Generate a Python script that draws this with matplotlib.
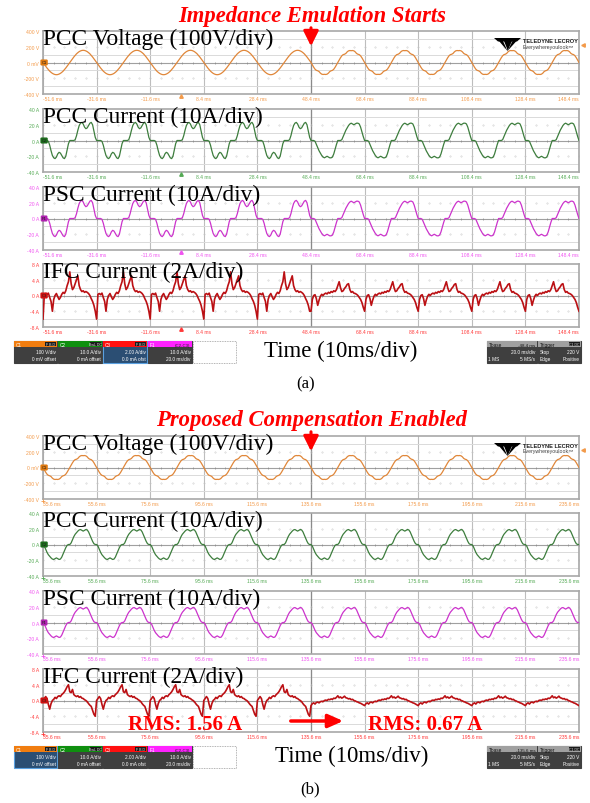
import matplotlib

matplotlib.use("Agg")
import matplotlib.pyplot as plt
import numpy as np
from matplotlib.patches import Rectangle, Polygon

plt.rcParams["font.family"] = ["Liberation Sans", "DejaVu Sans"]

W, H = 590, 804
DT = 0.5  # ms between samples in every per-cycle list below (one 50 Hz cycle = 40 samples)

# ---- per-cycle shapes (cycle starts at falling zero crossing of PCC voltage)
# voltage, half cycle (V); second half is the mirror image
VOLT_SINE_HALF = [0, -24, -48, -70, -91, -110, -125, -138, -147, -153,
                  -155, -153, -147, -138, -125, -110, -91, -70, -48, -24]
VOLT_STEP_HALF = [0, -30, -60, -85, -100, -105, -115, -135, -148, -152,
                  -150, -152, -148, -135, -115, -105, -100, -85, -60, -30]
# PCC / PSC current, half cycle (A)
CUR_A_PRE_HALF = [0, 0, 0, 0, -1, -6, -13, -19, -22, -23,
                  -21, -17, -15, -16, -19, -22, -23, -20, -12, -4]
CUR_A_POST_HALF = [0, 0, 0, -1, -5, -9, -13, -16, -19, -21,
                   -22, -21, -20, -21, -22, -22, -21, -17, -11, -5]
CUR_B_HALF = [0, -2, -6, -10, -13, -15, -17, -18.5, -19, -18,
              -17, -18, -19, -18.5, -16, -12, -8, -4, -1, 0]
# IFC current, full cycle (A)
IFC_A_PRE = [-6.0, 0.3, 0.5, 0.2, 0.6, -0.5, -1.5, -4.0, -1.0, 0.0,
             0.5, -0.3, -1.0, -0.5, 0.3, 0.8, 0.5, 1.2, 2.5, 3.5,
             6.0, 3.0, 1.5, 2.0, 3.0, 4.0, 5.0, 2.5, 1.5, 1.0,
             1.2, 0.8, 1.0, 0.8, 0.5, 0.0, -0.8, -1.5, -2.5, -4.0]
IFC_A_POST = [-4.0, -1.0, 0.0, 0.2, -0.8, -2.5, -1.2, -0.2, 0.3, 0.0,
              0.4, 0.6, 0.4, 0.8, 0.6, 1.0, 0.8, 1.2, 1.0, 1.5,
              2.5, 3.5, 2.0, 1.0, 1.2, 1.8, 2.2, 2.8, 3.0, 1.5,
              0.8, 1.0, 0.6, 0.5, 0.3, 0.0, -0.5, -1.0, -1.8, -3.0]
IFC_B_PRE = [0.0, 0.5, 1.0, 0.5, -1.0, -2.2, -0.8, 0.0, 0.3, 0.8,
             0.5, 1.0, 1.2, 1.0, 1.5, 1.8, 2.2, 2.8, 3.5, 4.0,
             2.2, 2.0, 2.8, 1.5, 1.2, 1.0, 1.2, 0.8, 1.0, 0.6,
             0.5, 0.2, 0.0, -0.3, -0.8, -1.2, -1.5, -2.5, -3.5, -4.0]
IFC_B_POST = [-1.3, -0.8, -0.6, -0.9, -0.5, -0.4, -0.6, -0.3, -0.2, -0.3,
              0.0, 0.1, 0.0, 0.3, 0.2, 0.4, 0.3, 0.6, 0.5, 0.8,
              1.2, 0.7, 0.9, 0.6, 0.8, 1.1, 0.7, 0.6, 0.4, 0.5,
              0.2, 0.3, 0.0, -0.1, -0.3, -0.4, -0.6, -0.7, -0.9, -1.1]

T0_A, T0_B = -51.6, 35.6  # left edge of the screen, ms
TBASE_A, TBASE_B = "-48.4 ms", "-135.6 ms"


def full(half):
    return list(half) + [-v for v in half]


# channel look: per-div, tick labels, trace colour, label colour, marker colour, marker text
CH = {
    "V": (100, ["400 V", "200 V", "0 mV", "-200 V", "-400 V"], "#e0873a", "#f39a4a", "#e07a10", "C1"),
    "PCC": (10, ["40 A", "20 A", "0 A", "-20 A", "-40 A"], "#3d7d3d", "#55aa55", "#1c6b1c", "C2"),
    "PSC": (10, ["40 A", "20 A", "0 A", "-20 A", "-40 A"], "#cc33cc", "#f055f0", "#b020b0", "F1"),
    "IFC": (2, ["8 A", "4 A", "0 A", "-4 A", "-8 A"], "#bb1014", "#ff3a3a", "#d01010", "C3"),
}

X0, X1, HGT = 43, 579, 63

fig = plt.figure(figsize=(W / 100, H / 100), dpi=100)
ov = fig.add_axes([0, 0, 1, 1], zorder=10)
ov.set_xlim(0, W)
ov.set_ylim(H, 0)
ov.axis("off")
ov.patch.set_alpha(0)


def strip(top, t0, pre, post, key, left_mark):
    div, ylabs, tc, lc, mc, mtxt = CH[key]
    y = np.concatenate([np.tile(pre, 5), np.tile(post, 5), post[:1]])
    t = t0 + np.arange(len(y)) * DT
    ax = fig.add_axes([X0 / W, 1 - (top + HGT) / H, (X1 - X0) / W, HGT / H])
    ax.set_xlim(t0, t0 + 200)
    ax.set_ylim(-4 * div, 4 * div)
    xt = t0 + 20 * np.arange(11)
    ax.set_xticks(xt, [f"{v:.1f} ms" for v in xt])
    ax.set_yticks([4 * div, 2 * div, 0, -2 * div, -4 * div], ylabs)
    ax.set_yticks(np.arange(-4, 5) * div, minor=True)
    ax.tick_params(which="both", length=0, labelsize=3.6, labelcolor=lc)
    ax.tick_params(axis="x", pad=1.2)
    ax.tick_params(axis="y", pad=2.8)
    labs = ax.get_xticklabels()
    labs[0].set_ha("left")
    labs[-1].set_ha("right")
    ax.grid(which="major", axis="x", color="#bdbdbd", lw=0.8)
    ax.grid(which="minor", axis="y", color="#dadada", lw=0.7)
    ax.set_axisbelow(True)
    ax.axvline(t0 + 100, color="#8a8a8a", lw=0.9, zorder=1)
    ax.axhline(0, color="#a0a0a0", lw=0.8, zorder=1)
    sub = t0 + 4 * np.arange(51)
    ax.plot(sub, np.zeros_like(sub), ls="none", marker="|", ms=2, mew=0.5, color="#8a8a8a", zorder=1)
    for r in (2 * div, -2 * div):
        ax.plot(sub, np.full_like(sub, r), ls="none", marker=".", ms=0.6, color="#c4c4c4", zorder=1)
    for s in ax.spines.values():
        s.set_color("#a8a8a8")
        s.set_linewidth(1.2)
    ax.plot(t, y, color=tc, lw=1.2 if key == "IFC" else 0.9, zorder=3)
    # channel marker at zero level
    ax.text(0.002, 0, mtxt, transform=ax.get_yaxis_transform(), ha="center", va="center",
            fontsize=3.0, color="#222222", zorder=6, clip_on=False,
            bbox=dict(boxstyle="round,pad=0.15", fc=mc, ec=mc, lw=0.5))
    if left_mark:
        ax.plot(0, -4.25 * div, marker="^", ms=2.5, color=lc, clip_on=False, zorder=6)
    else:
        ax.plot(t0, -4.25 * div, marker="+", ms=2.5, mew=0.6, color=lc, clip_on=False, zorder=6)
    if key == "V":
        ax.plot(1.008, 220, marker="<", ms=2.5, color=lc, clip_on=False, zorder=6,
                transform=ax.get_yaxis_transform())
    return ax


def logo(y):
    ov.add_patch(Polygon([(494, y), (521, y), (517, y + 3.5), (498, y + 3.5)], closed=True, fc="black"))
    for xa in (499, 503.5, 508, 512.5):
        ov.add_patch(Polygon([(xa, y + 3), (xa + 4, y + 3), (507.5, y + 13)], closed=True, fc="black"))
    ov.text(523, y + 4, "TELEDYNE LECROY", fontsize=4.1, fontweight="bold", color="#222222", va="baseline")
    ov.text(523, y + 9.5, "Everywhereyoulook\u2122", fontsize=3.8, color="#444444", va="baseline")


def box(x0, x1, y0, hc, name, tag, l1, l2, body="#3f3f3f", edge="#3f3f3f", dark_head=False):
    ov.add_patch(Rectangle((x0, y0), x1 - x0, 22, fc=body, ec=edge, lw=0.8))
    ov.add_patch(Rectangle((x0, y0), x1 - x0, 6, fc=hc, ec="none"))
    ov.text(x0 + 1.5, y0 + 4.8, name, fontsize=3.4, color="#111111" if dark_head else "white", va="baseline")
    if tag:
        ov.add_patch(Rectangle((x1 - 12, y0 + 0.8), 11, 4.4, fc="#1a1a1a", ec="none"))
        ov.text(x1 - 6.5, y0 + 4.5, tag, fontsize=2.6, color="#dddddd", ha="center", va="baseline")
    for i, line in enumerate((l1, l2)):
        if isinstance(line, tuple):
            ov.text(x0 + 1.5, y0 + 12 + 7 * i, line[0], fontsize=3.4, color="white", va="baseline")
            ov.text(x1 - 1.5, y0 + 12 + 7 * i, line[1], fontsize=3.4, color="white", ha="right", va="baseline")
        else:
            ov.text(x1 - 1.5, y0 + 12 + 7 * i, line, fontsize=3.4, color="white", ha="right", va="baseline")


def status(y0, sel, tbase):
    blue = "#2b4e73"
    box(14, 57, y0, "#f07d10", "C1", "F B D", "100 V/div", "0 mV offset",
        body=blue if sel == "C1" else "#3f3f3f", edge="#5aa0e0" if sel == "C1" else "#3f3f3f")
    box(58, 102, y0, "#0f8f0f", "C2", "BwL DC", "10.0 A/div", "0 mA offset")
    box(103, 147, y0, "#ff1010", "C3", "F B D", "2.00 A/div", "0.0 mA ofst",
        body=blue if sel == "C3" else "#3f3f3f", edge="#5aa0e0" if sel == "C3" else "#3f3f3f")
    box(148, 192, y0, "#ff22ff", "F1", None, "10.0 A/div", "20.0 ms/div")
    ov.text(190, y0 + 4.8, "(C2-C3)", fontsize=3.2, color="#222222", ha="right", va="baseline")
    ov.add_patch(Rectangle((193, y0), 43, 22, fc="white", ec="#9a9a9a", lw=0.6, ls=(0, (1, 1))))
    box(487, 537, y0, "#a0a0a0", "Tbase", None, "20.0 ms/div", ("1 MS", "5 MS/s"), dark_head=True)
    ov.text(535.5, y0 + 4.8, tbase, fontsize=3.2, color="#111111", ha="right", va="baseline")
    box(538, 581, y0, "#a0a0a0", "Trigger", "C1 DC", ("Stop", "220 V"), ("Edge", "Positive"), dark_head=True)


SERIF = "Liberation Serif"

# ---------------- panel (a)
tops_a = [32, 110, 188, 265]
strip(tops_a[0], T0_A, full(VOLT_SINE_HALF), full(VOLT_STEP_HALF), "V", True)
strip(tops_a[1], T0_A, full(CUR_A_PRE_HALF), full(CUR_A_POST_HALF), "PCC", True)
strip(tops_a[2], T0_A, full(CUR_A_PRE_HALF), full(CUR_A_POST_HALF), "PSC", True)
strip(tops_a[3], T0_A, IFC_A_PRE, IFC_A_POST, "IFC", True)

# ---------------- panel (b)
tops_b = [437, 514, 592, 670]
strip(tops_b[0], T0_B, full(VOLT_STEP_HALF), full(VOLT_STEP_HALF), "V", False)
strip(tops_b[1], T0_B, full(CUR_B_HALF), full(CUR_B_HALF), "PCC", False)
strip(tops_b[2], T0_B, full(CUR_B_HALF), full(CUR_B_HALF), "PSC", False)
strip(tops_b[3], T0_B, IFC_B_PRE, IFC_B_POST, "IFC", False)

names = ["PCC Voltage (100V/div)", "PCC Current (10A/div)", "PSC Current (10A/div)", "IFC Current (2A/div)"]
for tops in (tops_a, tops_b):
    for tp, nm in zip(tops, names):
        ov.text(43, tp + 13, nm, family=SERIF, fontsize=16.8, color="black", va="baseline")
    logo(tops[0] + 7)

ov.text(312, 22, "Impedance Emulation Starts", family=SERIF, fontsize=16.3, fontweight="bold",
        fontstyle="italic", color="#ff0000", ha="center", va="baseline")
ov.text(312, 426, "Proposed Compensation Enabled", family=SERIF, fontsize=16.3, fontweight="bold",
        fontstyle="italic", color="#ff0000", ha="center", va="baseline")
for ya, yb in ((26, 50), (430, 455)):
    ov.annotate("", xy=(311, yb), xytext=(311, ya),
                arrowprops=dict(arrowstyle="-|>,head_width=0.45,head_length=0.9", color="#ff0000", lw=2.2))

status(342, "C3", TBASE_A)
status(747, "C1", TBASE_B)
ov.text(341, 357, "Time (10ms/div)", family=SERIF, fontsize=16.5, ha="center", va="baseline")
ov.text(352, 762, "Time (10ms/div)", family=SERIF, fontsize=16.5, ha="center", va="baseline")
ov.text(306, 388, "(a)", family=SERIF, fontsize=12, ha="center", va="baseline")
ov.text(310, 793, "(b)", family=SERIF, fontsize=12, ha="center", va="baseline")

ov.text(128, 730, "RMS: 1.56 A", family=SERIF, fontsize=15, fontweight="bold", color="#ff0000", va="baseline")
ov.text(368, 730, "RMS: 0.67 A", family=SERIF, fontsize=15, fontweight="bold", color="#ff0000", va="baseline")
ov.annotate("", xy=(346, 722), xytext=(288, 722),
            arrowprops=dict(arrowstyle="-|>,head_width=0.4,head_length=0.9", color="#ff0000", lw=2.5))

fig.savefig("out.png", dpi=100, facecolor="white")
